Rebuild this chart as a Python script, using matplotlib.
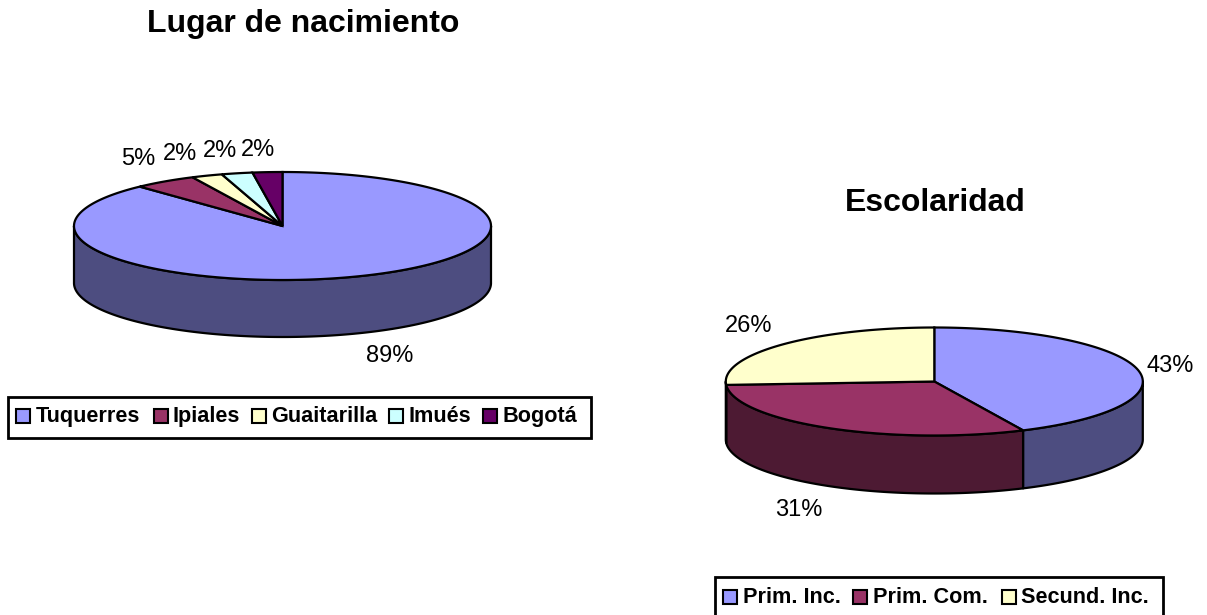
#!/usr/bin/env python3
"""Two Excel style 3D pies: lugar de nacimiento and escolaridad."""

import matplotlib

matplotlib.use("Agg")
import matplotlib.pyplot as plt
import numpy as np
from matplotlib.patches import Polygon, Rectangle

plt.rcParams["font.family"] = ["Liberation Sans", "DejaVu Sans"]

birth_names = ["Tuquerres", "Ipiales", "Guaitarilla", "Imués", "Bogotá"]
birth_values = [88.0, 4.9, 2.4, 2.4, 2.3]
birth_labels = ["89%", "5%", "2%", "2%", "2%"]

school_names = ["Prim. Inc.", "Prim. Com.", "Secund. Inc."]
school_values = [43, 31, 26]
school_labels = ["43%", "31%", "26%"]

colors = ["#9999FF", "#993366", "#FFFFCC", "#CCFFFF", "#660066"]
LW = 1.6


def _darken(color):
    rgb = np.array(matplotlib.colors.to_rgb(color))
    return tuple(rgb * 0.5)


def _rim(cx, cy, rx, ry, start, stop):
    # angles in degrees, clockwise from 12 o'clock, y axis points down
    ang = np.radians(np.linspace(start, stop, max(int(abs(stop - start)) * 2, 2)))
    return np.column_stack([cx + rx * np.sin(ang), cy - ry * np.cos(ang)])


def draw_pie(ax, values, cx, cy, rx, ry, depth):
    edges = np.concatenate([[0.0], np.cumsum(values)]) / np.sum(values) * 360.0

    # side wall is only seen on the front half
    for i in range(len(values)):
        lo, hi = max(edges[i], 90.0), min(edges[i + 1], 270.0)
        if hi <= lo:
            continue
        top = _rim(cx, cy, rx, ry, lo, hi)
        bottom = top[::-1] + [0, depth]
        ax.add_patch(Polygon(np.vstack([top, bottom]), closed=True, fc=_darken(colors[i]),
                             ec="black", lw=LW, joinstyle="round"))

    for i in range(len(values)):
        rim = _rim(cx, cy, rx, ry, edges[i], edges[i + 1])
        ax.add_patch(Polygon(np.vstack([[cx, cy], rim]), closed=True, fc=colors[i],
                             ec="black", lw=LW, joinstyle="miter"))


def draw_legend(ax, box, names, swatch_x, text_x, baseline):
    ax.add_patch(Rectangle(box[:2], box[2], box[3], fc="white", ec="black", lw=2.0))
    for i, name in enumerate(names):
        ax.add_patch(Rectangle((swatch_x[i], baseline - 13.5), 14, 14, fc=colors[i], ec="black", lw=1.5))
        ax.text(text_x[i], baseline, name, fontsize=15.6, fontweight="bold", va="baseline", ha="left")


fig = plt.figure(figsize=(12.07, 6.15), dpi=100)
ax = fig.add_axes([0, 0, 1, 1])
ax.set_xlim(0, 1207)
ax.set_ylim(615, 0)
ax.axis("off")

draw_pie(ax, birth_values, 282.5, 226, 208.5, 54, 57)
draw_pie(ax, school_values, 934.3, 381.5, 208.5, 54, 58)

ax.text(303, 32, "Lugar de nacimiento", fontsize=23, fontweight="bold", ha="center", va="baseline")
ax.text(935, 211, "Escolaridad", fontsize=23, fontweight="bold", ha="center", va="baseline")

birth_label_pos = [(390, 362), (138.5, 165), (180.5, 160), (219.5, 157), (258, 156)]
for text, (x, y) in zip(birth_labels, birth_label_pos):
    ax.text(x, y, text, fontsize=17, ha="center", va="baseline")

school_label_pos = [(1170, 372), (799, 516), (749, 332)]
for text, (x, y) in zip(school_labels, school_label_pos):
    ax.text(x, y, text, fontsize=17, ha="center", va="baseline")

draw_legend(ax, (8, 397, 583, 41), birth_names,
            [15.5, 153.5, 251.5, 388.5, 482.5], [36, 173, 271, 409, 502], 422)
draw_legend(ax, (715, 577, 448, 45), school_names,
            [722.5, 852.5, 1001.5], [743, 873, 1021], 603)

fig.savefig("out.png", dpi=100)
plt.close(fig)
